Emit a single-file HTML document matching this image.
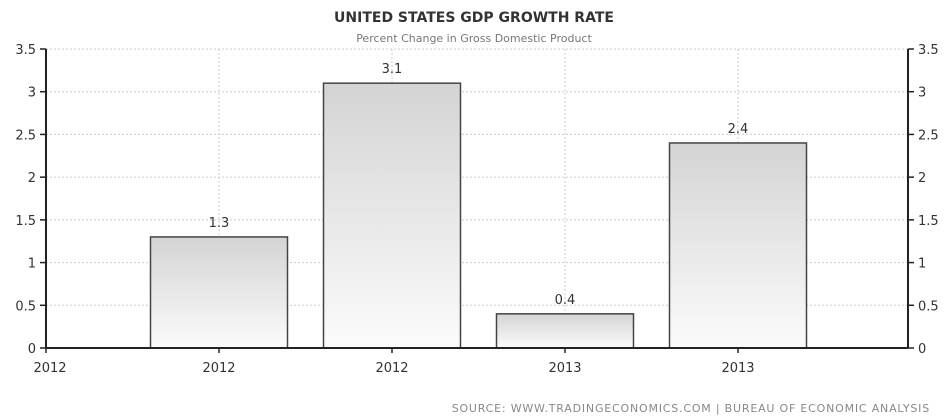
<!DOCTYPE html>
<html><head><meta charset="utf-8"><style>
body{margin:0;background:#fff;}
svg{display:block;font-family:"DejaVu Sans","Liberation Sans",sans-serif;}
</style></head><body>
<svg id="c" width="949" height="420">
<defs><linearGradient id="g" x1="0" y1="0" x2="0" y2="1"><stop offset="0" stop-color="#d4d4d4"/><stop offset="1" stop-color="#fbfbfb"/></linearGradient></defs>
<text x="474" y="22" text-anchor="middle" font-size="14" font-weight="bold" fill="#333">UNITED STATES GDP GROWTH RATE</text>
<text x="474" y="42" text-anchor="middle" font-size="11" fill="#777">Percent Change in Gross Domestic Product</text>
<text x="930" y="412" text-anchor="end" font-size="11" fill="#888" letter-spacing="0.8">SOURCE: WWW.TRADINGECONOMICS.COM | BUREAU OF ECONOMIC ANALYSIS</text>
</svg>
<script>
const categories=["2012","2012","2012","2013","2013"];
const values=[null,1.3,3.1,0.4,2.4];
const yTicks=[0,0.5,1,1.5,2,2.5,3,3.5];
const yTickLabels=["0","0.5","1","1.5","2","2.5","3","3.5"];
const svg=document.getElementById('c');const NS='http://www.w3.org/2000/svg';
const L=46,R=908,T=49,B=348,ymax=3.5,step=173;
const y=v=>B-(v/ymax)*(B-T);const x=i=>L+i*step;
function mk(t,a,p){const e=document.createElementNS(NS,t);for(const k in a)e.setAttribute(k,a[k]);(p||svg).appendChild(e);return e;}
yTicks.forEach((v,i)=>{
 if(v>0){const g=mk('line',{x1:L,x2:R,y1:y(v),y2:y(v),stroke:'#ccc','stroke-dasharray':'2,2'});
 
 }
 mk('line',{x1:L-6,x2:L,y1:y(v),y2:y(v),stroke:'#222','stroke-width':1.5});
 mk('line',{x1:R,x2:R+6,y1:y(v),y2:y(v),stroke:'#222','stroke-width':1.5});
 const a=mk('text',{x:L-10,y:y(v)+5,'text-anchor':'end','font-size':13,fill:'#333'});a.textContent=yTickLabels[i];
 
 
 const b=mk('text',{x:R+10,y:y(v)+5,'font-size':13,fill:'#333'});b.textContent=yTickLabels[i];
 
 
});
categories.forEach((c,i)=>{
 if(i>0){const g=mk('line',{x1:x(i),x2:x(i),y1:T,y2:B,stroke:'#ccc','stroke-dasharray':'2,2'});
 
 }
 const v=values[i];
 if(v!=null){
  const r=mk('rect',{x:x(i)-68.5,y:y(v),width:137,height:B-y(v),fill:'url(#g)',stroke:'#444','stroke-width':1.5});
  
  
  const t=mk('text',{x:x(i),y:y(v)-10,'text-anchor':'middle','font-size':13,fill:'#333'});t.textContent=v.toFixed(1);
  
  
 }
 mk('line',{x1:x(i),x2:x(i),y1:B,y2:B+5,stroke:'#222','stroke-width':1.5});
 const t=mk('text',{x:x(i)+(i==0?4:0),y:B+24,'text-anchor':'middle','font-size':13,fill:'#333'});t.textContent=c;
 
 
});
mk('line',{x1:L,x2:L,y1:T,y2:B,stroke:'#222','stroke-width':2});
mk('line',{x1:R,x2:R,y1:T,y2:B,stroke:'#222','stroke-width':2});
mk('line',{x1:L,x2:R,y1:B,y2:B,stroke:'#222','stroke-width':2});
</script>
</body></html>
